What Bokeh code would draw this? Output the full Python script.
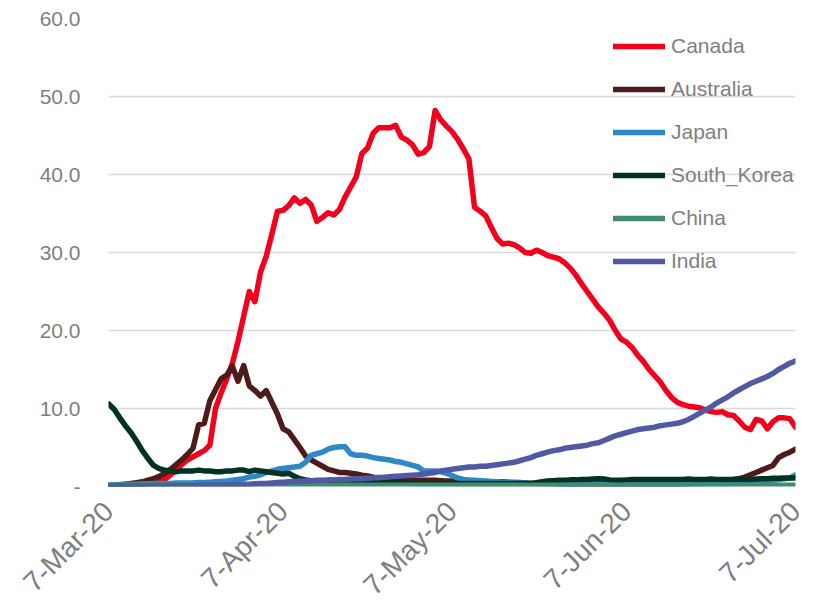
import numpy as np
from bokeh.plotting import figure
from bokeh.models import FixedTicker, Legend, LegendItem, Range1d
from bokeh.embed import file_html
from bokeh.resources import INLINE

# Daily values from 7-Mar-20 (day 0) to 7-Jul-20 (day 122)
canada = [0.1, 0.1, 0.1, 0.15, 0.2, 0.2, 0.3, 0.4, 0.5, 0.7,
          0.9, 1.5, 2.1, 2.8, 3.4, 3.8, 4.2, 4.6, 5.3, 10.0,
          12.0, 13.8, 15.8, 18.6, 21.8, 25.0, 23.7, 27.5, 29.5, 32.3,
          35.3, 35.4, 36.0, 37.0, 36.3, 36.8, 36.1, 34.0, 34.5, 35.1,
          34.8, 35.5, 37.1, 38.4, 39.7, 42.7, 43.4, 45.3, 46.0, 46.0,
          46.0, 46.3, 44.8, 44.4, 43.8, 42.6, 42.8, 43.6, 48.2, 47.0,
          46.2, 45.5, 44.5, 43.3, 42.0, 35.8, 35.3, 34.7, 33.2, 31.8,
          31.1, 31.2, 31.0, 30.6, 30.0, 29.9, 30.3, 30.0, 29.6, 29.4,
          29.2, 28.7, 28.0, 27.1, 26.0, 25.0, 24.0, 23.0, 22.2, 21.3,
          20.0, 18.9, 18.5, 17.8, 16.8, 16.0, 15.0, 14.2, 13.4, 12.3,
          11.4, 10.8, 10.5, 10.3, 10.2, 10.1, 9.8, 9.6, 9.5, 9.6,
          9.2, 9.1, 8.4, 7.6, 7.3, 8.6, 8.4, 7.4, 8.3, 8.8,
          8.8, 8.7, 7.6]
australia = [0.1, 0.15, 0.2, 0.3, 0.4, 0.5, 0.6, 0.8, 1.0, 1.3,
             1.7, 2.2, 2.8, 3.4, 4.1, 4.9, 7.9, 8.1, 11.0, 12.4,
             13.8, 14.3, 15.4, 13.5, 15.5, 12.9, 12.3, 11.6, 12.3, 10.8,
             9.3, 7.4, 7.0, 6.0, 5.0, 3.9, 3.4, 3.0, 2.6, 2.2,
             2.0, 1.8, 1.8, 1.7, 1.6, 1.45, 1.35, 1.2, 1.1, 1.05,
             1.0, 0.95, 0.9, 0.85, 0.8, 0.8, 0.8, 0.8, 0.8, 0.75,
             0.7, 0.7, 0.7, 0.7, 0.7, 0.65, 0.65, 0.6, 0.6, 0.6,
             0.6, 0.55, 0.5, 0.5, 0.45, 0.4, 0.4, 0.35, 0.35, 0.35,
             0.3, 0.3, 0.3, 0.3, 0.3, 0.3, 0.3, 0.3, 0.3, 0.3,
             0.3, 0.3, 0.3, 0.3, 0.3, 0.3, 0.3, 0.3, 0.3, 0.3,
             0.3, 0.3, 0.35, 0.35, 0.4, 0.4, 0.5, 0.55, 0.6, 0.7,
             0.8, 0.9, 1.0, 1.2, 1.5, 1.8, 2.1, 2.4, 2.7, 3.7,
             4.1, 4.4, 4.8]
japan = [0.2, 0.2, 0.25, 0.3, 0.3, 0.3, 0.35, 0.35, 0.4, 0.4,
         0.4, 0.4, 0.45, 0.45, 0.45, 0.45, 0.5, 0.5, 0.55, 0.6,
         0.65, 0.7, 0.8, 0.9, 1.0, 1.2, 1.3, 1.5, 1.8, 2.0,
         2.2, 2.3, 2.4, 2.5, 2.6, 3.1, 4.0, 4.2, 4.4, 4.8,
         5.0, 5.1, 5.1, 4.2, 4.0, 4.0, 3.9, 3.7, 3.6, 3.5,
         3.4, 3.2, 3.1, 2.9, 2.7, 2.5, 2.0, 2.0, 2.0, 1.9,
         1.7, 1.4, 1.1, 0.9, 0.85, 0.8, 0.75, 0.7, 0.65, 0.6,
         0.55, 0.5, 0.5, 0.45, 0.45, 0.4, 0.4, 0.4, 0.4, 0.4,
         0.35, 0.35, 0.35, 0.35, 0.35, 0.35, 0.35, 0.35, 0.35, 0.35,
         0.35, 0.35, 0.35, 0.35, 0.35, 0.35, 0.35, 0.35, 0.35, 0.35,
         0.35, 0.35, 0.35, 0.35, 0.35, 0.35, 0.35, 0.35, 0.35, 0.35,
         0.4, 0.4, 0.45, 0.45, 0.5, 0.55, 0.6, 0.7, 0.8, 0.9,
         1.0, 1.1, 1.5]
south_korea = [10.6, 9.9, 8.8, 7.8, 6.9, 5.8, 4.6, 3.6, 2.7, 2.3,
               2.1, 2.0, 1.9, 2.0, 2.0, 2.0, 2.1, 2.0, 2.0, 1.9,
               1.9, 2.0, 2.0, 2.1, 2.1, 1.9, 2.1, 2.0, 1.9, 1.8,
               1.7, 1.6, 1.7, 1.3, 1.0, 0.85, 0.75, 0.7, 0.65, 0.6,
               0.55, 0.5, 0.5, 0.5, 0.5, 0.5, 0.5, 0.5, 0.45, 0.45,
               0.45, 0.45, 0.45, 0.45, 0.4, 0.4, 0.4, 0.4, 0.4, 0.4,
               0.4, 0.4, 0.4, 0.4, 0.4, 0.4, 0.4, 0.4, 0.4, 0.4,
               0.4, 0.4, 0.4, 0.4, 0.4, 0.4, 0.5, 0.6, 0.7, 0.75,
               0.8, 0.8, 0.85, 0.85, 0.9, 0.9, 0.95, 1.0, 0.95, 0.85,
               0.8, 0.8, 0.85, 0.9, 0.9, 0.9, 0.9, 0.9, 0.9, 0.9,
               0.9, 0.9, 0.9, 0.95, 0.9, 0.9, 0.9, 0.95, 0.9, 0.9,
               0.9, 0.9, 0.95, 0.9, 0.9, 0.95, 1.0, 1.0, 1.05, 1.05,
               1.1, 1.1, 1.1]
china = [0.2, 0.2, 0.2, 0.2, 0.2, 0.2, 0.2, 0.2, 0.2, 0.2,
         0.15, 0.15, 0.15, 0.15, 0.15, 0.15, 0.15, 0.15, 0.15, 0.15,
         0.15, 0.15, 0.15, 0.15, 0.15, 0.15, 0.15, 0.15, 0.15, 0.15,
         0.15, 0.15, 0.15, 0.15, 0.15, 0.15, 0.15, 0.15, 0.15, 0.15,
         0.15, 0.15, 0.15, 0.15, 0.15, 0.15, 0.15, 0.15, 0.15, 0.15,
         0.15, 0.15, 0.15, 0.15, 0.15, 0.15, 0.15, 0.15, 0.15, 0.15,
         0.15, 0.15, 0.15, 0.15, 0.15, 0.15, 0.15, 0.15, 0.15, 0.15,
         0.15, 0.15, 0.15, 0.15, 0.15, 0.15, 0.15, 0.15, 0.15, 0.15,
         0.15, 0.15, 0.15, 0.15, 0.15, 0.15, 0.15, 0.15, 0.15, 0.15,
         0.15, 0.15, 0.15, 0.15, 0.15, 0.15, 0.15, 0.15, 0.15, 0.15,
         0.15, 0.15, 0.15, 0.15, 0.15, 0.15, 0.15, 0.15, 0.15, 0.15,
         0.15, 0.15, 0.15, 0.15, 0.15, 0.15, 0.15, 0.15, 0.15, 0.15,
         0.15, 0.15, 0.15]
india = [0.05, 0.05, 0.05, 0.05, 0.05, 0.05, 0.05, 0.05, 0.05, 0.05,
         0.05, 0.1, 0.1, 0.1, 0.1, 0.1, 0.15, 0.15, 0.2, 0.2,
         0.2, 0.2, 0.25, 0.25, 0.3, 0.3, 0.35, 0.4, 0.4, 0.45,
         0.5, 0.55, 0.6, 0.65, 0.7, 0.7, 0.75, 0.8, 0.8, 0.85,
         0.85, 0.9, 0.9, 0.95, 1.0, 1.0, 1.05, 1.1, 1.15, 1.2,
         1.25, 1.3, 1.35, 1.4, 1.45, 1.5, 1.6, 1.7, 1.8, 2.0,
         2.1, 2.2, 2.3, 2.4, 2.5, 2.5, 2.6, 2.6, 2.7, 2.8,
         2.9, 3.0, 3.1, 3.3, 3.5, 3.7, 4.0, 4.2, 4.4, 4.6,
         4.7, 4.9, 5.0, 5.1, 5.2, 5.3, 5.5, 5.6, 5.9, 6.2,
         6.5, 6.7, 6.9, 7.1, 7.3, 7.4, 7.5, 7.6, 7.8, 7.9,
         8.0, 8.1, 8.3, 8.6, 9.0, 9.4, 9.8, 10.2, 10.7, 11.1,
         11.5, 12.0, 12.4, 12.8, 13.2, 13.5, 13.8, 14.1, 14.5, 15.0,
         15.4, 15.8, 16.1]

series_names = ["Canada", "Australia", "Japan", "South_Korea", "China", "India"]
series_values = [canada, australia, japan, south_korea, china, india]
series_colors = ["#F4001C", "#4F1A1A", "#2E88C8", "#003322", "#428B6F", "#5159A4"]

x_tick_days = [0, 31, 61, 92, 122]
x_tick_labels = ["7-Mar-20", "7-Apr-20", "7-May-20", "7-Jun-20", "7-Jul-20"]
y_ticks = [0, 10, 20, 30, 40, 50, 60]
y_tick_labels = ["-", "10.0", "20.0", "30.0", "40.0", "50.0", "60.0"]

days = np.arange(len(canada))

FONT = "Liberation Sans"
GREY = "#7F7F7F"

p = figure(width=815, height=615, output_backend="svg", toolbar_location=None,
           x_range=Range1d(0, 122), y_range=Range1d(0, 60),
           min_border_left=108, min_border_right=20, min_border_top=18,
           min_border_bottom=129)
p.outline_line_color = None
p.background_fill_color = "white"
p.border_fill_color = "white"
p.xgrid.grid_line_color = None
p.ygrid.grid_line_color = "#D9D9D9"
p.ygrid.grid_line_width = 1.3

for ax in (p.xaxis[0], p.yaxis[0]):
    ax.axis_line_color = None
    ax.major_tick_line_color = None
    ax.minor_tick_line_color = None
    ax.major_tick_out = 0
    ax.major_tick_in = 0
    ax.minor_tick_out = 0
    ax.major_label_text_font = FONT
    ax.major_label_text_color = GREY

p.yaxis.major_label_text_font_size = "21px"
p.xaxis.major_label_text_font_size = "28px"
p.yaxis.ticker = FixedTicker(ticks=y_ticks)
p.yaxis.major_label_overrides = dict(zip(y_ticks, y_tick_labels))
p.yaxis.major_label_standoff = 28
p.xaxis.ticker = FixedTicker(ticks=x_tick_days)
p.xaxis.major_label_overrides = dict(zip(x_tick_days, x_tick_labels))
p.xaxis.major_label_orientation = np.pi / 4
p.xaxis.major_label_standoff = 20

items = []
for name, vals, col in zip(series_names, series_values, series_colors):
    r = p.line(days, vals, line_color=col, line_width=5.5,
               line_join="round", line_cap="round")
    items.append(LegendItem(label=name, renderers=[r]))

legend = Legend(items=items, location=(505, 210),
                label_text_font=FONT, label_text_color=GREY,
                label_text_font_size="21px",
                glyph_width=52, glyph_height=30, label_height=30,
                spacing=13, padding=0, margin=0, label_standoff=6,
                border_line_alpha=0, background_fill_alpha=0)
p.add_layout(legend)

open("out.html", "w").write(file_html(p, INLINE))
